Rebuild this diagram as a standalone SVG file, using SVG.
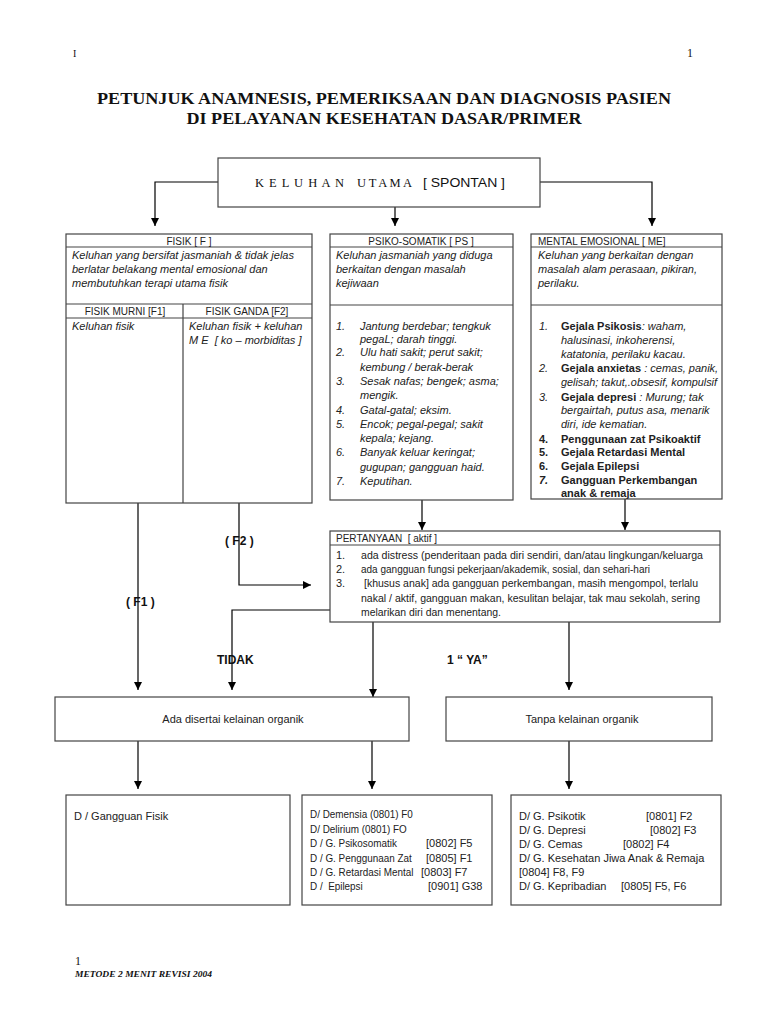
<svg xmlns="http://www.w3.org/2000/svg" width="768" height="1024" viewBox="0 0 768 1024">
<style>
.bg{fill:#fff}
.box{fill:#fff;stroke:#444;stroke-width:1.2}
.sep{stroke:#444;stroke-width:1.2;fill:none}
.ln{stroke:#000;stroke-width:1.2;fill:none;marker-end:url(#ah)}
.t{font-family:"Liberation Sans",Arial,sans-serif;font-size:11px;fill:#222}
.h{font-family:"Liberation Sans",Arial,sans-serif;font-size:10px;fill:#222}
.i{font-style:italic}
.b{font-weight:bold}
.pre{white-space:pre}
.lab{font-family:"Liberation Sans",Arial,sans-serif;font-size:12px;font-weight:bold;fill:#111}
.ser{font-family:"Liberation Serif","Times New Roman",serif;fill:#111}
</style>
<defs>
<marker id="ah" markerUnits="userSpaceOnUse" markerWidth="8" markerHeight="9" refX="8" refY="4" orient="auto">
<path d="M0,0 L8,4 L0,8 z" fill="#000"/>
</marker>
</defs>
<rect class="bg" x="0" y="0" width="768" height="1024"/>

<g id="header">
<text class="ser" x="73" y="57" font-size="10">I</text>
<text class="ser" x="687" y="57" font-size="12">1</text>
<text class="ser" x="384" y="104" font-size="16.5" font-weight="bold" text-anchor="middle" textLength="574" lengthAdjust="spacingAndGlyphs">PETUNJUK ANAMNESIS, PEMERIKSAAN DAN DIAGNOSIS PASIEN</text>
<text class="ser" x="384" y="124" font-size="16.5" font-weight="bold" text-anchor="middle" textLength="395" lengthAdjust="spacingAndGlyphs">DI PELAYANAN KESEHATAN DASAR/PRIMER</text>
</g>

<g id="connectors">
<path class="ln" d="M218,182 H155 V226"/>
<path class="ln" d="M395,207 V226"/>
<path class="ln" d="M540,182 H652 V226"/>
<path class="ln" d="M138,503 V690"/>
<path class="ln" d="M239,503 V585 H311"/>
<path class="ln" d="M422,500 V530"/>
<path class="ln" d="M625,499 V530"/>
<path class="ln" d="M330,610 H232 V690"/>
<path class="ln" d="M373,622 V697"/>
<path class="ln" d="M569,622 V690"/>
<path class="ln" d="M138,741 V789"/>
<path class="ln" d="M372,741 V789"/>
<path class="ln" d="M569,741 V789"/>
</g>

<g id="keluhan-utama">
<rect class="box" x="218" y="158" width="322" height="49"/>
<text class="ser" y="187" font-size="12.5"><tspan x="255" textLength="89" lengthAdjust="spacing">K E L U H A N</tspan><tspan x="357" textLength="55" lengthAdjust="spacing">U T A M A</tspan><tspan x="423" font-family="Liberation Sans, Arial, sans-serif" font-size="12" textLength="82" lengthAdjust="spacingAndGlyphs">[ SPONTAN ]</tspan></text>
</g>

<g id="fisik">
<rect class="box" x="66" y="234" width="246" height="269"/>
<path class="sep" d="M66,247 H312 M66,304 H312 M66,318 H312 M183,304 V503"/>
<text class="h" x="189" y="245" text-anchor="middle">FISIK [ F ]</text>
<text class="t i" x="72" y="259">Keluhan yang bersifat jasmaniah &amp; tidak jelas</text>
<text class="t i" x="72" y="273">berlatar belakang mental emosional dan</text>
<text class="t i" x="72" y="287">membutuhkan terapi utama fisik</text>
<text class="h" x="125" y="315" text-anchor="middle">FISIK MURNI [F1]</text>
<text class="h" x="247" y="315" text-anchor="middle">FISIK GANDA [F2]</text>
<text class="t i" x="72" y="330">Keluhan fisik</text>
<text class="t i" x="189" y="330">Keluhan fisik + keluhan</text>
<text class="t i pre" x="189" y="344">M E  [ ko – morbiditas ]</text>
</g>

<g id="psiko-somatik">
<rect class="box" x="330" y="234" width="183" height="266"/>
<path class="sep" d="M330,247 H513 M330,305 H513"/>
<text class="h" x="421" y="245" text-anchor="middle">PSIKO-SOMATIK [ PS ]</text>
<text class="t i" x="336" y="259">Keluhan jasmaniah yang diduga</text>
<text class="t i" x="336" y="273">berkaitan dengan masalah</text>
<text class="t i" x="336" y="287">kejiwaan</text>
<g class="t i">
<text x="336" y="330">1.</text><text x="360" y="330">Jantung berdebar; tengkuk</text>
<text x="360" y="343">pegaL; darah tinggi.</text>
<text x="336" y="356">2.</text><text x="360" y="356">Ulu hati sakit; perut sakit;</text>
<text x="360" y="371">kembung / berak-berak</text>
<text x="336" y="385">3.</text><text x="360" y="385">Sesak nafas; bengek; asma;</text>
<text x="360" y="399">mengik.</text>
<text x="336" y="414">4.</text><text x="360" y="414">Gatal-gatal; eksim.</text>
<text x="336" y="428">5.</text><text x="360" y="428">Encok; pegal-pegal; sakit</text>
<text x="360" y="442">kepala; kejang.</text>
<text x="336" y="456">6.</text><text x="360" y="456">Banyak keluar keringat;</text>
<text x="360" y="471">gugupan; gangguan haid.</text>
<text x="336" y="485">7.</text><text x="360" y="485">Keputihan.</text>
</g>
</g>

<g id="mental-emosional">
<rect class="box" x="531" y="234" width="191" height="265"/>
<path class="sep" d="M531,247 H722 M531,305 H722"/>
<text class="h" x="538" y="245">MENTAL EMOSIONAL [ ME]</text>
<text class="t i" x="538" y="259">Keluhan yang berkaitan dengan</text>
<text class="t i" x="538" y="273">masalah alam perasaan, pikiran,</text>
<text class="t i" x="538" y="287">perilaku.</text>
<g class="t">
<text class="i" x="539" y="330">1.</text><text x="561" y="330"><tspan class="b">Gejala Psikosis</tspan><tspan class="i">: waham,</tspan></text>
<text class="i" x="561" y="344">halusinasi, inkoherensi,</text>
<text class="i" x="561" y="358">katatonia, perilaku kacau.</text>
<text class="i" x="539" y="372">2.</text><text x="561" y="372"><tspan class="b">Gejala anxietas</tspan><tspan class="i"> : cemas, panik,</tspan></text>
<text class="i" x="561" y="386" textLength="156" lengthAdjust="spacingAndGlyphs">gelisah; takut,.obsesif, kompulsif</text>
<text class="i" x="539" y="401">3.</text><text x="561" y="401"><tspan class="b">Gejala depresi</tspan><tspan class="i"> : Murung; tak</tspan></text>
<text class="i" x="561" y="414">bergairtah, putus asa, menarik</text>
<text class="i" x="561" y="428">diri, ide kematian.</text>
<text class="b" x="539" y="443">4.</text><text class="b" x="561" y="443">Penggunaan zat Psikoaktif</text>
<text class="b" x="539" y="456">5.</text><text class="b" x="561" y="456">Gejala Retardasi Mental</text>
<text class="b" x="539" y="470">6.</text><text class="b" x="561" y="470">Gejala Epilepsi</text>
<text class="b i" x="539" y="484">7.</text><text class="b" x="561" y="484">Gangguan Perkembangan</text>
<text class="b" x="561" y="497">anak &amp; remaja</text>
</g>
</g>

<g id="pertanyaan">
<rect class="box" x="330" y="531" width="390" height="91"/>
<path class="sep" d="M330,545 H720"/>
<text class="h pre" x="336" y="542">PERTANYAAN  [ aktif ]</text>
<g class="t">
<text x="336" y="559">1.</text><text x="361" y="559" textLength="342" lengthAdjust="spacingAndGlyphs">ada distress (penderitaan pada diri sendiri, dan/atau lingkungan/keluarga</text>
<text x="336" y="573">2.</text><text x="361" y="573" textLength="289" lengthAdjust="spacingAndGlyphs">ada gangguan fungsi pekerjaan/akademik, sosial, dan sehari-hari</text>
<text x="336" y="587">3.</text><text x="364" y="587" textLength="334" lengthAdjust="spacingAndGlyphs">[khusus anak] ada gangguan perkembangan, masih mengompol, terlalu</text>
<text x="361" y="602" textLength="339" lengthAdjust="spacingAndGlyphs">nakal / aktif, gangguan makan, kesulitan belajar, tak mau sekolah, sering</text>
<text x="361" y="616" textLength="140" lengthAdjust="spacingAndGlyphs">melarikan diri dan menentang.</text>
</g>
</g>

<g id="labels">
<text class="lab" x="225" y="545">( F2 )</text>
<text class="lab" x="126" y="606">( F1 )</text>
<text class="lab" x="217" y="664">TIDAK</text>
<text class="lab" x="447" y="664">1 “ YA”</text>
</g>

<g id="ada-kelainan">
<rect class="box" x="55" y="697" width="354" height="44"/>
<text class="t" x="233" y="723" text-anchor="middle">Ada disertai kelainan organik</text>
</g>

<g id="tanpa-kelainan">
<rect class="box" x="446" y="697" width="266" height="44"/>
<text class="t" x="582" y="723" text-anchor="middle">Tanpa kelainan organik</text>
</g>

<g id="diag-fisik">
<rect class="box" x="66" y="795" width="224" height="110"/>
<text class="t" x="74" y="820">D / Gangguan Fisik</text>
</g>

<g id="diag-organik">
<rect class="box" x="302" y="795" width="190" height="110"/>
<g class="t">
<text transform="matrix(0.9 0 0 1 310 818)">D/ Demensia (0801) F0</text>
<text transform="matrix(0.9 0 0 1 310 833)">D/ Delirium (0801) FO</text>
<text transform="matrix(0.9 0 0 1 310 847)">D / G. Psikosomatik</text><text x="426" y="847">[0802] F5</text>
<text transform="matrix(0.9 0 0 1 310 862)">D / G. Penggunaan Zat</text><text x="426" y="862">[0805] F1</text>
<text transform="matrix(0.9 0 0 1 310 876)">D / G. Retardasi Mental</text><text x="421" y="876">[0803] F7</text>
<text class="pre" transform="matrix(0.9 0 0 1 310 890)">D /  Epilepsi</text><text x="428" y="890">[0901] G38</text>
</g>
</g>

<g id="diag-nonorganik">
<rect class="box" x="511" y="795" width="210" height="110"/>
<g class="t">
<text x="519" y="820">D/ G. Psikotik</text><text x="646" y="820">[0801] F2</text>
<text x="519" y="834">D/ G. Depresi</text><text x="650" y="834">[0802] F3</text>
<text x="519" y="848">D/ G. Cemas</text><text x="623" y="848">[0802] F4</text>
<text x="519" y="862">D/ G. Kesehatan Jiwa Anak &amp; Remaja</text>
<text x="519" y="876">[0804] F8, F9</text>
<text x="519" y="890">D/ G. Kepribadian</text><text x="621" y="890">[0805] F5, F6</text>
</g>
</g>

<g id="footer">
<text class="ser" x="75" y="965" font-size="12">1</text>
<text class="ser" x="75" y="977" font-size="9" font-style="italic" font-weight="bold" textLength="137" lengthAdjust="spacingAndGlyphs">METODE 2 MENIT REVISI 2004</text>
</g>
</svg>
